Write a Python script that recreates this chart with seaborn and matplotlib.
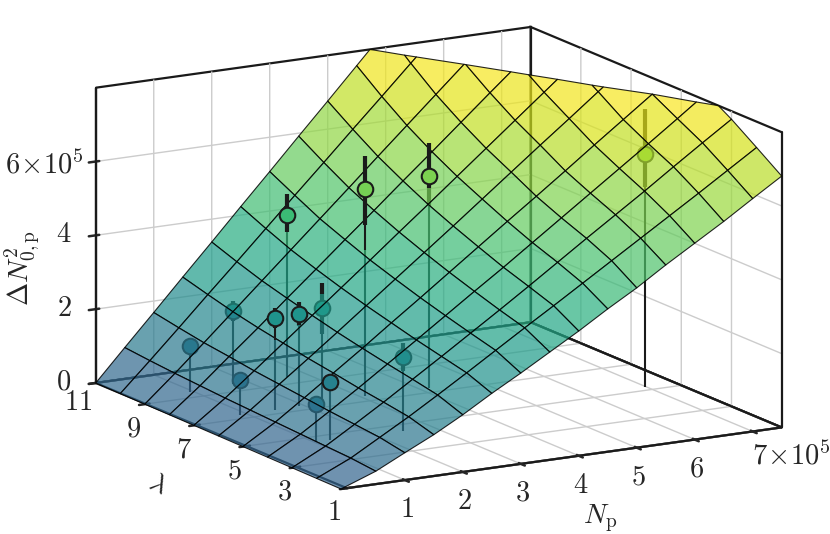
import matplotlib
matplotlib.use("Agg")
import matplotlib.pyplot as plt
import seaborn as sns
from matplotlib.colors import Normalize
from mpl_toolkits.mplot3d.art3d import Poly3DCollection

sns.set_theme(style="white")
plt.rcParams['mathtext.fontset'] = 'cm'

# everything in units of 1e5
N_grid = [0, 0.5, 1, 1.5, 2, 2.5, 3, 3.5, 4, 4.5, 5, 5.5, 6, 6.5, 7, 7.5]
N_first = [-0.10, -0.09, -0.08, -0.07, -0.06, -0.05, -0.04, -0.03, -0.02, -0.01, 0]  # mesh starts a bit early at low lambda
lam_grid = [1, 2, 3, 4, 5, 6, 7, 8, 9, 10, 11]
surface = [
    [0, 0.35, 0.74, 1.12, 1.55, 2.02, 2.46, 2.92, 3.38, 3.87, 4.33, 4.84, 5.32, 5.80, 6.31, 6.81],
    [0, 0.42, 0.87, 1.32, 1.80, 2.29, 2.79, 3.29, 3.78, 4.28, 4.78, 5.28, 5.78, 6.28, 6.79, 7.30],
    [0, 0.46, 0.94, 1.43, 1.94, 2.45, 2.97, 3.49, 4.02, 4.56, 5.10, 5.63, 6.16, 6.71, 7.25, 7.78],
    [0, 0.50, 1.01, 1.53, 2.07, 2.61, 3.16, 3.71, 4.25, 4.81, 5.37, 5.93, 6.49, 7.05, 7.62, 8.20],
    [0, 0.54, 1.09, 1.65, 2.21, 2.79, 3.36, 3.94, 4.52, 5.10, 5.67, 6.25, 6.84, 7.42, 8.00, 8.60],
    [0, 0.58, 1.17, 1.76, 2.36, 2.97, 3.58, 4.19, 4.80, 5.42, 6.04, 6.66, 7.27, 7.89, 8.51, 9.12],
    [0, 0.62, 1.25, 1.89, 2.53, 3.17, 3.81, 4.46, 5.10, 5.75, 6.40, 7.05, 7.70, 8.35, 9.00, 9.66],
    [0, 0.67, 1.35, 2.02, 2.71, 3.39, 4.08, 4.76, 5.45, 6.13, 6.82, 7.51, 8.19, 8.88, 9.57, 10.27],
    [0, 0.72, 1.44, 2.17, 2.90, 3.63, 4.36, 5.09, 5.83, 6.56, 7.29, 8.02, 8.76, 9.49, 10.22, 10.96],
    [0, 0.78, 1.56, 2.35, 3.13, 3.92, 4.71, 5.49, 6.28, 7.06, 7.85, 8.63, 9.42, 10.20, 10.99, 11.77],
    [0, 0.85, 1.69, 2.54, 3.38, 4.23, 5.07, 5.92, 6.76, 7.61, 8.46, 9.30, 10.15, 10.99, 11.84, 12.68],
]

# measured points: position, value, error bar ends, and where the surface cuts the stem
pt_N = [0.94, 1.745, 0.88, 1.49, 1.91, 2.30, 1.264, 1.034, 2.675, 3.09, 4.15, 2.50, 6.98]
pt_lam = [9.4, 9.55, 7.3, 7.3, 7.3, 7.3, 4.6, 4.6, 9.55, 7.4, 7.3, 4.55, 5.25]
pt_z = [1.24, 1.97, 0.95, 2.49, 2.50, 2.57, 1.57, 1.02, 4.38, 5.60, 5.76, 2.00, 6.32]
pt_hi = [1.40, 2.24, 1.16, 2.76, 2.82, 3.27, 1.80, 1.20, 4.95, 6.49, 6.65, 2.38, 7.54]
pt_lo = [1.08, 1.70, 0.73, 2.22, 2.18, 1.87, 1.35, 0.85, 3.92, 4.62, 4.95, 1.62, 5.43]
pt_cut = [3.00, 3.30, 1.20, 1.89, 2.20, 2.97, 1.35, 1.30, 3.92, 3.95, 5.43, 2.85, 8.00]

# the long labels and "11" sit off the normal tick spot, they are placed by hand below
N_ticks = [1, 2, 3, 4, 5, 6, 7]
N_labels = ['$1$', '$2$', '$3$', '$4$', '$5$', '$6$', '']
lam_ticks = [1, 3, 5, 7, 9, 11]
lam_labels = ['$1$', '$3$', '$5$', '$7$', '$9$', '']
z_ticks = [0, 2, 4, 6]
z_labels = ['$0$', '$2$', '$4$', '']

z_top = 8
cmap = sns.color_palette("viridis", as_cmap=True)
norm = Normalize(vmin=-3.43, vmax=z_top)


def clip_cell(cell, top):
    # cut a surface cell along z = top
    out = []
    for a, b in zip(cell, cell[1:] + cell[:1]):
        if a[2] <= top:
            out.append(a)
        if (a[2] - top) * (b[2] - top) < 0:
            t = (top - a[2]) / (b[2] - a[2])
            out.append((a[0] + t * (b[0] - a[0]), a[1] + t * (b[1] - a[1]), top))
    return out


cells = []
colors = []
for i in range(len(lam_grid) - 1):
    for j in range(len(N_grid) - 1):
        n_lo = N_first[i] if j == 0 else N_grid[j]
        n_hi = N_first[i + 1] if j == 0 else N_grid[j]
        cell = [(n_lo, lam_grid[i], surface[i][j]),
                (N_grid[j + 1], lam_grid[i], surface[i][j + 1]),
                (N_grid[j + 1], lam_grid[i + 1], surface[i + 1][j + 1]),
                (n_hi, lam_grid[i + 1], surface[i + 1][j])]
        cell = clip_cell(cell, z_top)
        if len(cell) >= 3:
            cells.append(cell)
            colors.append(cmap(norm(sum(p[2] for p in cell) / len(cell)), alpha=0.7))

S = 750
fig = plt.figure(figsize=(8.3, 5.34), dpi=100)
ax = fig.add_axes([53.6 / 830, -108.7 / 534, S / 830, S / 534], projection='3d', computed_zorder=False)
ax.set_proj_type('ortho')
ax.view_init(elev=14, azim=-120)
ax.set_box_aspect((1, 1, 0.606))
ax.set_xlim(N_grid[0], N_grid[-1], view_margin=0)
ax.set_ylim(1, 11, view_margin=0)
ax.set_zlim(0, z_top, view_margin=0)

# box edges behind everything, the grid would otherwise run over them
x0, x1 = N_grid[0], N_grid[-1]
box_edges = [([x0, x1], [11, 11], [0, 0]), ([x1, x1], [1, 11], [0, 0]),
             ([x0, x0], [11, 11], [0, z_top]), ([x1, x1], [11, 11], [0, z_top]), ([x1, x1], [1, 1], [0, z_top]),
             ([N_first[0], x0], [1, 1], [0, 0])]
for xs, ys, zs in box_edges:
    ax.plot(xs, ys, zs, color='k', lw=1.6, zorder=0)

surf = Poly3DCollection(cells, facecolors=colors, edgecolors=(0, 0, 0, 0.85), linewidths=0.8, zorder=3)
ax.add_collection3d(surf, autolim=False)

for n, lam, z, hi, lo, cut in zip(pt_N, pt_lam, pt_z, pt_hi, pt_lo, pt_cut):
    # parts below the surface go behind it, the rest in front
    for a, b, lw in [(0, z, 1.5), (lo, hi, 3.0)]:
        if a < min(b, cut):
            ax.plot([n, n], [lam, lam], [a, min(b, cut)], color='k', lw=lw, solid_capstyle='butt', zorder=1)
        if b > max(a, cut):
            ax.plot([n, n], [lam, lam], [max(a, cut), b], color='k', lw=lw, solid_capstyle='butt', zorder=4)
    ax.scatter([n], [lam], [z], s=125, color=cmap(norm(z)), edgecolors='k', linewidths=1.5,
               depthshade=False, zorder=5 if z > cut else 2)

ax.set_xticks(N_ticks)
ax.set_xticklabels(N_labels, fontsize=20.5, va='top', ha='right')
ax.set_yticks(lam_ticks)
ax.set_yticklabels(lam_labels, fontsize=20.5, va='top')
ax.set_zticks(z_ticks)
ax.set_zticklabels(z_labels, fontsize=20.5, va='center', ha='right')
ax.tick_params(axis='x', pad=2.5)
ax.tick_params(axis='y', pad=0)
ax.tick_params(axis='z', pad=2)

for axis in [ax.xaxis, ax.yaxis, ax.zaxis]:
    axis.set_pane_color((1, 1, 1, 1))
    axis.pane.set_edgecolor('k')
    axis.pane.set_linewidth(1.6)
    axis.line.set_linewidth(1.6)
    axis.line.set_color('k')
    axis._axinfo['grid'].update(color='0.8', linewidth=1.0)
    axis._axinfo['tick']['linewidth'][True] = 1.8
    axis._axinfo['tick']['color'] = 'k'

fig.text(752 / 830, 1 - 456 / 534, r'$7\!\times\!10^5$', fontsize=20.5, ha='left', va='center')
fig.text(5 / 830, 1 - 165 / 534, r'$6\!\times\!10^5$', fontsize=20.5, ha='left', va='center')
fig.text(78 / 830, 1 - 402 / 534, '$11$', fontsize=20.5, ha='center', va='center')
fig.text(600 / 830, 1 - 518 / 534, r'$N_{\rm p}$', fontsize=20, ha='center', va='center')
fig.text(158 / 830, 1 - 483 / 534, r'$\lambda$', fontsize=20, rotation=-25, ha='center', va='center')
fig.text(22 / 830, 1 - 268 / 534, r'$\Delta N_{0,{\rm p}}^2$', fontsize=20, rotation=90, ha='center', va='center')

fig.savefig('out.png', dpi=100)
